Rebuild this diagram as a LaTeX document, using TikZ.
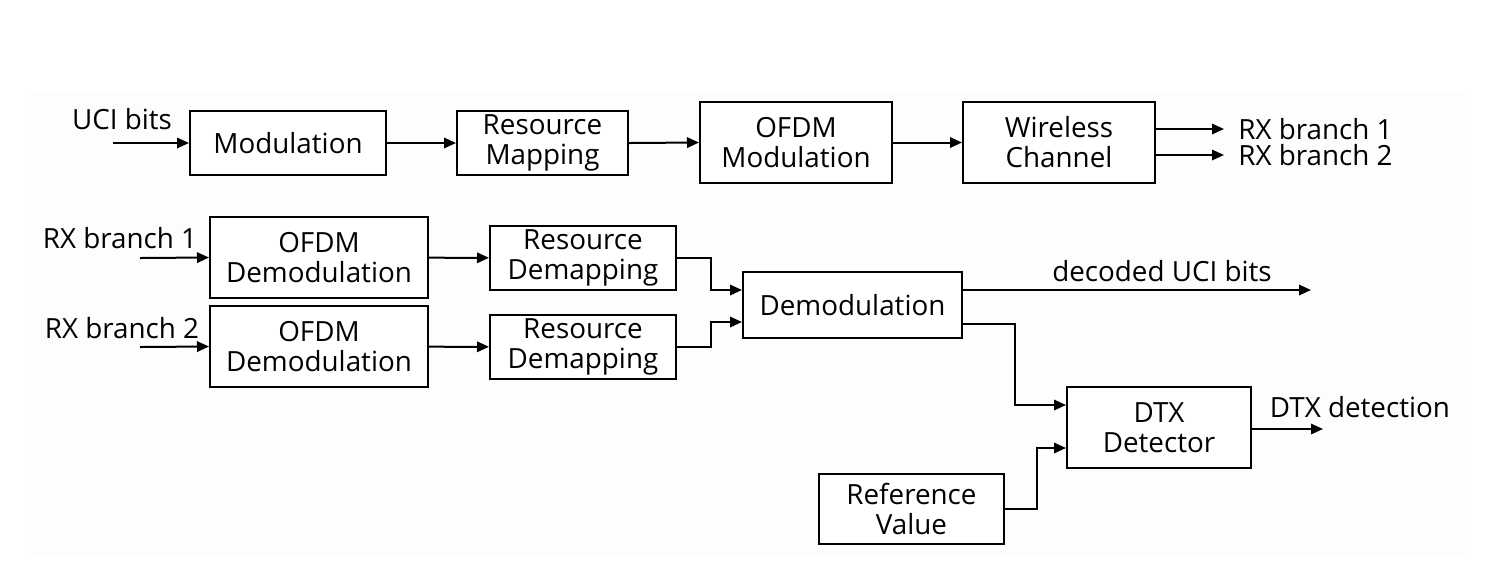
\documentclass[tikz,border=0pt]{standalone}
\usepackage{fontspec}
\setmainfont{Open Sans}
\usetikzlibrary{arrows.meta}
\begin{document}
\begin{tikzpicture}[x=0.5pt,y=-0.5pt,
  every node/.style={font=\fontsize{13.9}{15}\selectfont, inner sep=0pt},
  blk/.style={draw=black, line width=1pt, fill=white, align=center},
  lbl/.style={align=center},
  conn/.style={line width=1pt, -{Triangle[length=6pt,width=5.2pt]}},
]
\useasboundingbox (0,0) rectangle (1501,586);
\fill[black!0.8] (26,92) rectangle (1470,557);

% row 1
\node[blk, minimum width=98pt, minimum height=32pt] (mod) at (288,143) {Modulation};
\node[blk, minimum width=85.5pt, minimum height=32pt] (rmap) at (542.5,143) {Resource\\Mapping};
\node[blk, minimum width=96pt, minimum height=40.5pt] (ofdm) at (796,142.5) {OFDM\\Modulation};
\node[blk, minimum width=96pt, minimum height=40.5pt] (wch) at (1059,142.5) {Wireless\\Channel};
\node[lbl] (uci) at (122,119) {UCI bits};
\coordinate (uin) at (113,143);
\coordinate (o1) at (1224,129);
\coordinate (o2) at (1224,155);
\node[lbl, anchor=west] (rx1o) at (1238,129) {RX branch 1};
\node[lbl, anchor=west] (rx2o) at (1238,155) {RX branch 2};

\draw[conn] (uin) -- (mod.west);
\draw[conn] (mod) -- (rmap);
\draw[conn] (rmap.east) -- (ofdm.west);
\draw[conn] (ofdm) -- (wch);
\draw[conn] (wch.east |- o1) -- (o1);
\draw[conn] (wch.east |- o2) -- (o2);

% row 2
\node[blk, minimum width=109pt, minimum height=40.5pt] (od1) at (319,257.5) {OFDM\\Demodulation};
\node[blk, minimum width=93pt, minimum height=32pt] (rd1) at (583,258) {Resource\\Demapping};
\node[blk, minimum width=109pt, minimum height=40.5pt] (od2) at (319,346.5) {OFDM\\Demodulation};
\node[blk, minimum width=93pt, minimum height=32pt] (rd2) at (583,347) {Resource\\Demapping};
\node[blk, minimum width=109.5pt, minimum height=33pt] (dem) at (852.5,305) {Demodulation};
\node[blk, minimum width=92pt, minimum height=40.5pt] (dtx) at (1159,427.5) {DTX\\Detector};
\node[blk, minimum width=92.5pt, minimum height=35pt] (ref) at (911.5,509) {Reference\\Value};

\node[lbl] (rx1) at (120,238) {RX branch 1};
\node[lbl] (rx2) at (122,328) {RX branch 2};
\coordinate (i1) at (140,258);
\coordinate (i2) at (140,347);
\coordinate (dec) at (1311,290);
\coordinate (dtxo) at (1323,429);
\node[lbl] (decl) at (1162,271) {decoded UCI bits};
\node[lbl] (dtxl) at (1360,407) {DTX detection};

\draw[conn] (i1) -- (od1.west);
\draw[conn] (i2) -- (od2.west);
\draw[conn] (od1) -- (rd1);
\draw[conn] (od2) -- (rd2);
\draw[conn] (rd1.east) -- ++(34,0) |- ([yshift=7.5pt]dem.west);
\draw[conn] (rd2.east) -- ++(34,0) |- ([yshift=-8.5pt]dem.west);
\draw[conn] (dem.east |- dec) -- (dec);
\draw[conn] ([yshift=-9.5pt]dem.east) -- ++(52,0) |- ([yshift=11.25pt]dtx.west);
\draw[conn] (ref.east) -- ++(32,0) |- ([yshift=-10.25pt]dtx.west);
\draw[conn] (dtx.east |- dtxo) -- (dtxo);
\end{tikzpicture}
\end{document}
